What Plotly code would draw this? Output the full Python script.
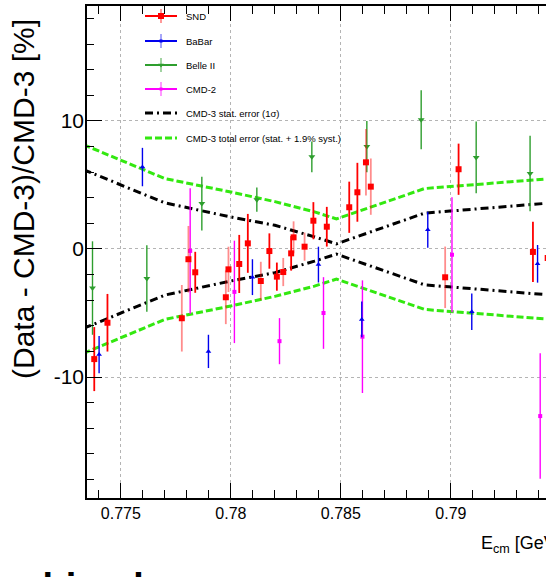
import plotly.graph_objects as go

# ---------------- data ----------------
# SND (two sub-samples, drawn with different error-bar shading)
snd_a_e = [0.77379, 0.77439, 0.77838, 0.78038, 0.78077, 0.78175, 0.78209,
           0.78274, 0.78375, 0.78436, 0.78538, 0.78575, 0.79035, 0.79373]
snd_a_v = [-8.6, -5.76, -1.82, -1.17, 0.44, -0.16, -2.16,
           -0.34, 2.21, 1.74, 3.26, 4.43, 6.23, -0.23]
snd_a_err = [2.5, 2.25, 1.6, 2.27, 2.3, 1.38, 1.1,
             1.35, 1.45, 1.55, 2.0, 2.3, 2.0, 2.35]

snd_b_e = [0.77777, 0.77807, 0.77977, 0.77989, 0.78136, 0.78238,
           0.78285, 0.78335, 0.78614, 0.78636, 0.78974, 0.79440]
snd_b_v = [-5.41, -0.8, -3.77, -1.59, -2.5, -1.8,
           0.91, 0.18, 6.77, 4.87, -2.21, -0.7]
snd_b_err = [2.6, 2.6, 2.1, 1.77, 1.5, 1.1,
             1.25, 1.1, 2.6, 2.2, 2.4, 1.7]

# BaBar
babar_e = [0.77401, 0.77598, 0.77898, 0.78098, 0.78398, 0.78595, 0.78895, 0.79095, 0.79394]
babar_v = [-8.25, 6.4, -8.0, -2.2, -1.22, -5.5, 1.5, -4.9, -1.16]
babar_err = [1.46, 1.5, 1.3, 1.4, 1.4, 1.4, 1.4, 1.43, 1.47]

# Belle II
belle_e = [0.77371, 0.77618, 0.77868, 0.78118, 0.78368, 0.78618, 0.78865, 0.79115, 0.79360]
belle_v = [-3.05, -2.3, 3.55, 3.85, 7.2, 8.0, 10.1, 7.15, 5.9]
belle_err = [3.65, 2.6, 2.1, 0.95, 1.2, 2.0, 2.3, 2.8, 2.95]

# CMD-2
cmd2_e = [0.77815, 0.78016, 0.78221, 0.78421, 0.78598, 0.79005, 0.79406]
cmd2_v = [-0.15, -3.35, -7.2, -5.0, -6.85, -0.45, -13.05]
cmd2_err = [4.9, 4.0, 1.8, 2.8, 4.4, 4.5, 4.9]

# CMD-3 error corridors (in %)
band_e = [0.7733, 0.7770, 0.7800, 0.7820, 0.7838, 0.7848, 0.7888, 0.7950]
stat_err = [6.2, 3.6, 2.5, 1.85, 0.95, 0.4, 2.8, 3.66]
total_err = [8.15, 5.5, 4.45, 3.7, 2.9, 2.35, 4.72, 5.56]

x_ticks = [0.775, 0.78, 0.785, 0.79]
x_tick_text = ["0.775", "0.78", "0.785", "0.79"]
y_ticks = [-10, 0, 10]
y_tick_text = ["-10", "0", "10"]

# ---------------- layout geometry ----------------
W, H = 546, 577
ML, MT, MB, MR = 87, 6, 79, 0
PW, PH = W - ML - MR, H - MT - MB
X0 = 0.77346
X1 = X0 + PW / 22000.0
Y_RANGE = [-19.45, 18.98]


def px_x(p):
    return (p - ML) / PW


def px_y(p):
    return (H - MB - p) / PH


RED = "#ff0000"
RED_PALE = "rgba(255,0,0,0.45)"
BLUE = "#0000ee"
GREEN = "#2e9e2e"
MAGENTA = "#ff00ff"
BAND_GREEN = "#33e810"

SANS = "Liberation Sans, Arial, Helvetica"

fig = go.Figure()

# error corridors
neg_stat = [-v for v in stat_err]
neg_total = [-v for v in total_err]
for ys in (total_err, neg_total):
    fig.add_trace(go.Scatter(x=band_e, y=ys, mode="lines",
                             line=dict(color=BAND_GREEN, width=3, dash="7px,3px"),
                             showlegend=False, hoverinfo="skip"))
for ys in (stat_err, neg_stat):
    fig.add_trace(go.Scatter(x=band_e, y=ys, mode="lines",
                             line=dict(color="black", width=3, dash="8px,4px,2px,4px"),
                             showlegend=False, hoverinfo="skip"))


def points(xs, ys, err, color, err_color, symbol, size, thick=1.6):
    fig.add_trace(go.Scatter(
        x=xs, y=ys, mode="markers",
        marker=dict(symbol=symbol, size=size, color=color, line=dict(width=0)),
        error_y=dict(type="data", array=err, color=err_color, thickness=thick, width=0),
        showlegend=False, cliponaxis=True))


points(cmd2_e, cmd2_v, cmd2_err, MAGENTA, MAGENTA, "square", 4, 1.4)
points(belle_e, belle_v, belle_err, GREEN, GREEN, "triangle-down", 6, 1.4)
points(babar_e, babar_v, babar_err, BLUE, BLUE, "triangle-up", 5, 1.4)
points(snd_b_e, snd_b_v, snd_b_err, RED, RED_PALE, "square", 6, 1.8)
points(snd_a_e, snd_a_v, snd_a_err, RED, RED, "square", 6, 1.8)

# ---------------- legend (pixel-space overlay axes) ----------------
legend_rows = [16, 41, 65, 89, 113, 138]
legend_labels = ["SND", "BaBar", "Belle II", "CMD-2",
                 "CMD-3 stat. error (1\u03c3)", "CMD-3 total error (stat. + 1.9% syst.)"]
legend_marks = [(RED, "rgba(255,0,0,0.4)", "square", 6),
                (BLUE, "rgba(0,0,238,0.35)", "square", 3),
                (GREEN, "rgba(46,158,46,0.45)", "triangle-down", 5),
                (MAGENTA, "rgba(255,0,255,0.4)", "square", 3)]
LX0, LX1, LTX = 145, 177, 184

for row, (col, ecol, sym, sz) in zip(legend_rows[:4], legend_marks):
    fig.add_trace(go.Scatter(x=[LX0, LX1], y=[row, row], mode="lines",
                             line=dict(color=col, width=2), xaxis="x3", yaxis="y3",
                             showlegend=False, hoverinfo="skip"))
    fig.add_trace(go.Scatter(x=[(LX0 + LX1) / 2], y=[row], mode="markers",
                             marker=dict(symbol=sym, size=sz, color=col, line=dict(width=0)),
                             error_y=dict(type="constant", value=7, color=ecol,
                                          thickness=2, width=0),
                             xaxis="x3", yaxis="y3", showlegend=False, hoverinfo="skip"))
fig.add_trace(go.Scatter(x=[LX0, LX1], y=[legend_rows[4]] * 2, mode="lines",
                         line=dict(color="black", width=3, dash="8px,4px,2px,4px"),
                         xaxis="x3", yaxis="y3", showlegend=False, hoverinfo="skip"))
fig.add_trace(go.Scatter(x=[LX0, LX1], y=[legend_rows[5]] * 2, mode="lines",
                         line=dict(color=BAND_GREEN, width=3, dash="7px,3px"),
                         xaxis="x3", yaxis="y3", showlegend=False, hoverinfo="skip"))

annotations = []
for row, lab in zip(legend_rows, legend_labels):
    annotations.append(dict(x=LTX, y=row, xref="x3", yref="y3", text=lab,
                            showarrow=False, xanchor="left", yanchor="middle",
                            font=dict(family=SANS, size=9.5, color="black")))

# axis titles
annotations.append(dict(x=px_x(23), y=px_y(199), xref="paper", yref="paper",
                        text="(Data - CMD-3)/CMD-3 [%]", textangle=-90,
                        showarrow=False, xanchor="center", yanchor="middle",
                        font=dict(family=SANS, size=30, color="black")))
annotations.append(dict(x=px_x(479), y=px_y(531), xref="paper", yref="paper",
                        text="E<sub>cm</sub> [GeV]", showarrow=False,
                        xanchor="left", yanchor="top",
                        font=dict(family=SANS, size=18, color="black")))
# text line below the frame
annotations.append(dict(x=px_x(-44), y=px_y(564), xref="paper", yref="paper",
                        text="<b>Combined</b>", showarrow=False,
                        xanchor="left", yanchor="top",
                        font=dict(family=SANS, size=38, color="black")))

fig.update_layout(
    width=W, height=H,
    margin=dict(l=ML, r=MR, t=MT, b=MB, pad=0),
    paper_bgcolor="white", plot_bgcolor="white",
    showlegend=False,
    annotations=annotations,
    xaxis=dict(range=[X0, X1], tickvals=x_ticks, ticktext=x_tick_text,
               ticks="inside", ticklen=15, tickwidth=1, tickcolor="black",
               minor=dict(dtick=0.001, tick0=0.775, ticks="inside", ticklen=8,
                          tickwidth=1, tickcolor="black", showgrid=False),
               showline=True, linecolor="black", linewidth=1.5, mirror="ticks",
               showgrid=True, gridcolor="#b4b4b4", griddash="dot", gridwidth=1,
               zeroline=False,
               tickfont=dict(family=SANS, size=16, color="black")),
    yaxis=dict(range=Y_RANGE, tickvals=y_ticks, ticktext=y_tick_text,
               ticks="inside", ticklen=15, tickwidth=1, tickcolor="black",
               minor=dict(dtick=2, tick0=0, ticks="inside", ticklen=7,
                          tickwidth=1, tickcolor="black", showgrid=False),
               showline=True, linecolor="black", linewidth=1.5, mirror=False,
               showgrid=True, gridcolor="#b4b4b4", griddash="dot", gridwidth=1,
               zeroline=False, ticklabelstandoff=-3,
               tickfont=dict(family=SANS, size=21, color="black")),
    yaxis2=dict(range=Y_RANGE, overlaying="y", side="right", anchor="x",
                tickvals=y_ticks, ticks="inside", ticklen=5, tickcolor="black",
                showticklabels=False, showgrid=False, showline=False, zeroline=False),
    xaxis3=dict(range=[ML, W - MR], overlaying="x", anchor="y3", visible=False),
    yaxis3=dict(range=[H - MB, MT], overlaying="y", anchor="x3", visible=False),
)

fig.write_html("out.html")
